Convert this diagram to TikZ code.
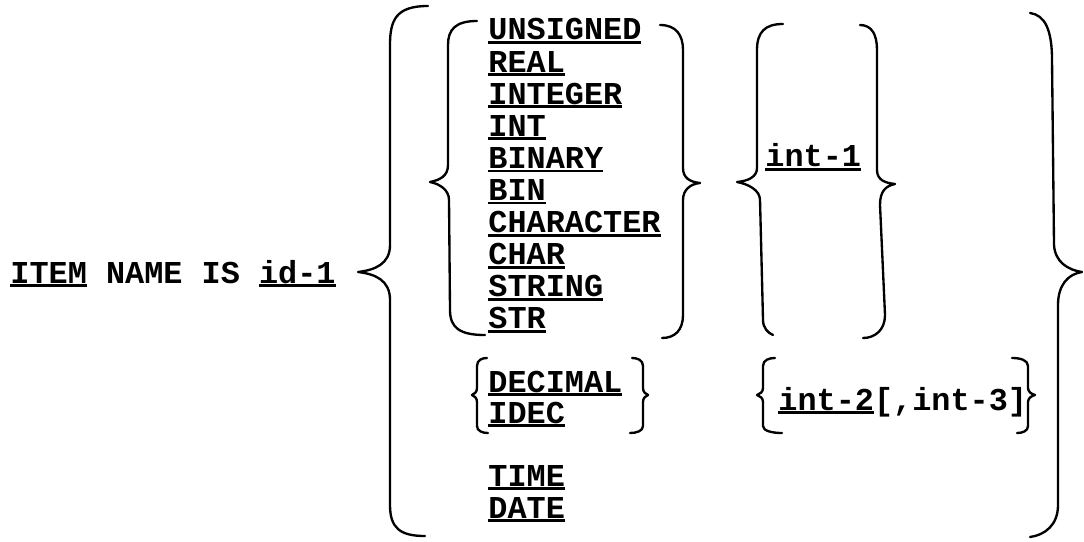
\documentclass[tikz,border=0pt]{standalone}
\usepackage{fontspec}
\setmonofont{Liberation Mono}
\newcommand{\uln}[1]{\setbox0\hbox{#1}\rlap{\vrule width\wd0 height -0.5pt depth 1.7pt}\box0\relax}

\begin{document}
\begin{tikzpicture}
  [x=0.015cm,y=-0.015cm,
   every node/.style={anchor=base west,inner sep=0pt,font=\ttfamily\bfseries\fontsize{13.6}{16}\selectfont},
   brc/.style={line width=1pt,line cap=round,line join=round}]
  \useasboundingbox (0,0) rectangle (1084,541);

  \node (item) at (10,283) {\uln{ITEM} NAME IS \uln{id-1}};

  \foreach \w [count=\i from 0] in {UNSIGNED,REAL,INTEGER,INT,BINARY,BIN,CHARACTER,CHAR,STRING,STR}
    \node (t\i) at (488,{40+32.1*\i}) {\uln{\w}};

  \node (int1) at (765,167) {\uln{int-1}};
  \node (dec) at (488,392) {\uln{DECIMAL}};
  \node (idec) at (488,423) {\uln{IDEC}};
  \node (int2) at (778,410) {\uln{int-2}[,int-3]};
  \node (time) at (488,486) {\uln{TIME}};
  \node (date) at (488,518) {\uln{DATE}};

  % big braces
  \draw[brc] (428,6) .. controls (396,6) and (390,20) .. (390,45) -- (390,245)
    .. controls (390,264) and (375,270) .. (358,272)
    .. controls (375,274) and (390,280) .. (390,300) -- (390,505)
    .. controls (390,528) and (400,536) .. (425,536);
  \draw[brc] (1030,13) .. controls (1045,15) and (1052,30) .. (1052,60) -- (1054,245)
    .. controls (1055,262) and (1068,270) .. (1082,272)
    .. controls (1068,274) and (1058,285) .. (1058,305) -- (1058,505)
    .. controls (1058,525) and (1045,535) .. (1030,537);

  % list braces
  \draw[brc] (477,21) .. controls (455,21) and (448,30) .. (448,45) -- (448,165)
    .. controls (448,176) and (440,180) .. (430,182)
    .. controls (440,184) and (449,190) .. (449,200) -- (450,310)
    .. controls (450,328) and (460,335) .. (485,335);
  \draw[brc] (660,25) .. controls (676,25) and (683,35) .. (683,50) -- (683,168)
    .. controls (683,178) and (690,182) .. (700,183)
    .. controls (690,184) and (683,190) .. (683,200) -- (683,315)
    .. controls (683,330) and (675,338) .. (662,338);
  \draw[brc] (783,24) .. controls (765,24) and (757,32) .. (757,50) -- (757,168)
    .. controls (757,177) and (748,181) .. (737,182)
    .. controls (748,184) and (760,190) .. (760,200) -- (763,320)
    .. controls (763,328) and (768,333) .. (773,335);
  \draw[brc] (860,25) .. controls (872,25) and (877,35) .. (877,50) -- (877,170)
    .. controls (877,180) and (885,183) .. (895,184)
    .. controls (885,186) and (880,192) .. (880,205) -- (885,315)
    .. controls (885,330) and (875,338) .. (863,338);

  % small braces
  \foreach \a/\v/\t/\b in {487/477/472/488,632/643/648/630,775/763/757/782,1012/1028/1035/1017}
    \draw[brc] (\a,358) .. controls ({(\a+\v)/2},358) and (\v,360) .. (\v,366) -- (\v,388)
      .. controls (\v,392) and ({(\v+\t)/2},394) .. (\t,395)
      .. controls ({(\v+\t)/2},396) and (\v,398) .. (\v,402) -- (\v,426)
      .. controls (\v,431) and ({(\v+\b)/2},433) .. (\b,433);

\end{tikzpicture}
\end{document}
